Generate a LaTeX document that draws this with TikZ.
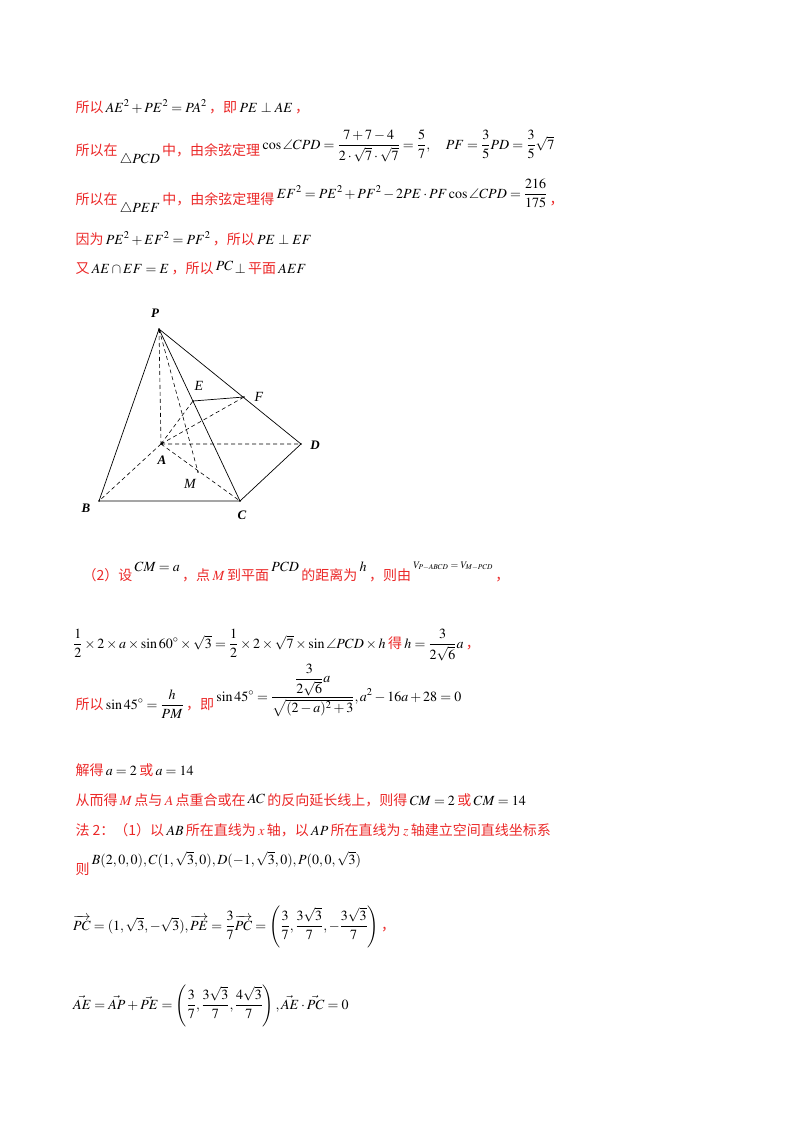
\documentclass[tikz,border=0pt]{standalone}
\usepackage{amsmath,amssymb}
\usepackage{mathptmx}
\usepackage{fontspec}
\setmainfont{Liberation Serif}
\newfontfamily\cjk{Noto Sans CJK SC}
\definecolor{myred}{RGB}{235,40,40}
\newcommand{\rr}[1]{\textcolor{myred}{\cjk\,#1\,}}
\begin{document}
\begin{tikzpicture}[x=1pt,y=-1pt,
  ln/.style={anchor=base west,inner sep=0pt,font=\fontsize{14}{17}\selectfont},
  lab/.style={font=\fontsize{13}{15}\selectfont\bfseries\itshape},
  labn/.style={font=\fontsize{14}{16}\selectfont\itshape},
  dsh/.style={dashed,dash pattern=on 4pt off 3pt,line width=0.6pt},
  sol/.style={line width=0.7pt}]
\useasboundingbox (0,0) rectangle (800,1132);
% text lines
\node[ln] (l1) at (73,112) {\rr{所以}$AE^2+PE^2=PA^2$\rr{，即}$PE\perp AE$\rr{，}};
\node[ln] (l2) at (73,155) {\rr{所以在}\raisebox{-8pt}{$\triangle PCD$}\rr{中，由余弦定理}\raisebox{6pt}{$\cos\angle CPD=\dfrac{7+7-4}{2\cdot\sqrt7\cdot\sqrt7}=\dfrac57,\quad PF=\dfrac35PD=\dfrac35\sqrt7$}};
\node[ln] (l3) at (73,204) {\rr{所以在}\raisebox{-8pt}{$\triangle PEF$}\rr{中，由余弦定理得}\raisebox{6pt}{$EF^2=PE^2+PF^2-2PE\cdot PF\cos\angle CPD=\dfrac{216}{175}$}\rr{，}};
\node[ln] (l4) at (73,244) {\rr{因为}$PE^2+EF^2=PF^2$\rr{，所以}$PE\perp EF$};
\node[ln] (l5) at (73,273) {\rr{又}$AE\cap EF=E$\rr{，所以}\raisebox{3pt}{$PC$}$\,\perp$\rr{平面}$AEF$};
\node[ln] (l6) at (80,580) {\rr{（2）设}\raisebox{9pt}{$CM=a$}\rr{，点}\textcolor{myred}{$M$}\rr{到平面}\raisebox{9pt}{$PCD$}\rr{的距离为}\raisebox{9pt}{$h$}\rr{，则由}\raisebox{12pt}{\fontsize{10}{12}\selectfont$V_{P-ABCD}=V_{M-PCD}$}\rr{，}};
\node[ln] (l7) at (73,648) {$\dfrac12\times2\times a\times\sin60^\circ\times\sqrt3=\dfrac12\times2\times\sqrt7\times\sin\angle PCD\times h$\rr{得}$h=\dfrac{3}{2\sqrt6}a$\rr{，}};
\node[ln] (l8) at (73,709) {\rr{所以}$\sin45^\circ=\dfrac{h}{PM}$\rr{，即}\raisebox{8pt}{$\sin45^\circ=\dfrac{\dfrac{3}{2\sqrt6}a}{\sqrt{(2-a)^2+3}},a^2-16a+28=0$}};
\node[ln] (l9) at (73,775) {\rr{解得}$a=2$\rr{或}$a=14$};
\node[ln] (l10) at (73,805) {\rr{从而得}\textcolor{myred}{$M$}\rr{点与}\textcolor{myred}{$A$}\rr{点重合或在}\raisebox{2pt}{$AC$}\rr{的反向延长线上，则得}$CM=2$\rr{或}$CM=14$};
\node[ln] (l11) at (73,835) {\rr{法 2：（1）以}$AB$\rr{所在直线为}\textcolor{myred}{$x$}\rr{轴，以}$AP$\rr{所在直线为}\textcolor{myred}{$z$}\rr{轴建立空间直线坐标系}};
\node[ln] (l12) at (73,874) {\rr{则}\raisebox{10pt}{$B(2,0,0),C(1,\sqrt3,0),D(-1,\sqrt3,0),P(0,0,\sqrt3)$}};
\node[ln] (l13) at (73,930) {$\overrightarrow{PC}=(1,\sqrt3,-\sqrt3),\overrightarrow{PE}=\dfrac37\overrightarrow{PC}=\left(\dfrac37,\dfrac{3\sqrt3}{7},-\dfrac{3\sqrt3}{7}\right)$\rr{，}};
\node[ln] (l14) at (73,1009) {$\vec{AE}=\vec{AP}+\vec{PE}=\left(\dfrac37,\dfrac{3\sqrt3}{7},\dfrac{4\sqrt3}{7}\right),\vec{AE}\cdot\vec{PC}=0$};
% figure
\coordinate (P) at (159,329);
\coordinate (E) at (193,401);
\coordinate (F) at (244,397);
\coordinate (D) at (301,444);
\coordinate (A) at (161,444);
\coordinate (M) at (198,472);
\coordinate (B) at (99,501);
\coordinate (C) at (240,501);
\draw[sol] (P)--(B) (P)--(C) (P)--(D) (B)--(C) (C)--(D) (E)--(F);
\draw[dsh] (P)--(A) (P)--(M) (A)--(B) (A)--(D) (A)--(C) (A)--(F) (A)--(E);
\foreach \q in {P,E,F,D,A,M,B,C} \fill (\q) circle (0.9pt);
\node[lab] (lP) at (155,313) {P};
\node[labn] (lE) at (199,386) {E};
\node[labn] (lF) at (259,397) {F};
\node[lab] (lD) at (315,445) {D};
\node[lab] (lA) at (162,460) {A};
\node[labn] (lM) at (190,484) {M};
\node[lab] (lB) at (86,508) {B};
\node[lab] (lC) at (242,515) {C};
\end{tikzpicture}
\end{document}
